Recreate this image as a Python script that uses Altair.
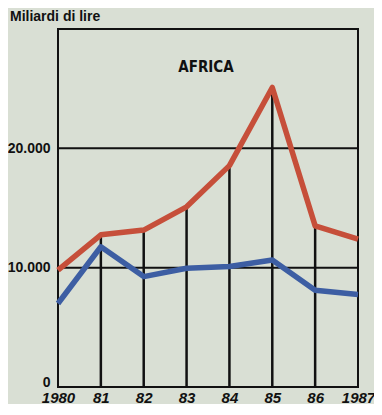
import altair as alt
import pandas as pd

years = [1980, 1981, 1982, 1983, 1984, 1985, 1986, 1987]
red_values = [9800, 12750, 13150, 15100, 18550, 25100, 13500, 12400]
blue_values = [7000, 11750, 9250, 9950, 10100, 10650, 8100, 7750]
y_ticks = [0, 10000, 20000]
grid_values = [10000, 20000]
title_text = "Miliardi di lire"
region = "AFRICA"

df = pd.DataFrame({"year": years, "red": red_values, "blue": blue_values})
drops = df[(df.year > years[0]) & (df.year < years[-1])]
grid = pd.DataFrame({"v": grid_values})

BG = "#d9dfd4"
FONT = "Liberation Sans"
COND = "'DejaVu Sans Condensed', 'Liberation Sans', sans-serif"

xs = alt.Scale(domain=[1980, 1987], nice=False, zero=False)
ys = alt.Scale(domain=[0, 30000], nice=False)

xaxis = alt.Axis(values=years, title=None, ticks=False, domain=False, grid=False,
                 labelFlush=False, labelPadding=3, labelFont=FONT, labelFontSize=15,
                 labelFontWeight="bold", labelFontStyle="italic", labelColor="#111",
                 labelExpr="datum.value == 1980 || datum.value == 1987 ? '' + datum.value : substring('' + datum.value, 2, 4)")
yaxis = alt.Axis(values=y_ticks, title=None, ticks=False, domain=False, grid=False,
                 labelFlush=False, labelPadding=8, labelFont=FONT, labelFontSize=14,
                 labelFontWeight="bold", labelColor="#111",
                 labelOffset={"condition": {"test": "datum.value == 0", "value": -5}, "value": 0},
                 labelExpr="datum.value == 0 ? '0' : replace(format(datum.value, ','), ',', '.')")

base = alt.Chart(df)

grid_rules = alt.Chart(grid).mark_rule(color="#111", strokeWidth=2).encode(
    y=alt.Y("v:Q", scale=ys, axis=yaxis)
)

drop_rules = alt.Chart(drops).mark_rule(color="#111", strokeWidth=2.5).encode(
    x=alt.X("year:Q", scale=xs, axis=xaxis),
    y=alt.Y("zero:Q", scale=ys),
    y2="red:Q",
).transform_calculate(zero="0")

blue_line = base.mark_line(color="#3d5ea3", strokeWidth=5.5, strokeJoin="round").encode(
    x=alt.X("year:Q", scale=xs, axis=xaxis),
    y=alt.Y("blue:Q", scale=ys, axis=yaxis),
)
red_line = base.mark_line(color="#c64f3a", strokeWidth=5.5, strokeJoin="round").encode(
    x=alt.X("year:Q", scale=xs, axis=xaxis),
    y=alt.Y("red:Q", scale=ys, axis=yaxis),
)

label_title = alt.Chart(pd.DataFrame({"t": [title_text]})).mark_text(
    align="left", baseline="middle", font=FONT, fontSize=14, fontWeight="bold", color="#111"
).encode(x=alt.value(-48), y=alt.value(-12), text="t:N")

label_region = alt.Chart(pd.DataFrame({"t": [region]})).mark_text(
    align="center", baseline="middle", font=COND, fontSize=15,
    fontWeight="bold", color="#111"
).encode(x=alt.value(148), y=alt.value(38), text="t:N")

chart = alt.layer(grid_rules, drop_rules, blue_line, red_line, label_title, label_region).properties(
    width=300, height=358,
    autosize=alt.AutoSizeParams(type="none"),
    padding={"left": 50, "top": 21, "right": 16, "bottom": 17},
    background=BG,
).configure_view(stroke="#111", strokeWidth=2)

chart.save("out.html", embed_options={"renderer": "svg", "actions": False})
